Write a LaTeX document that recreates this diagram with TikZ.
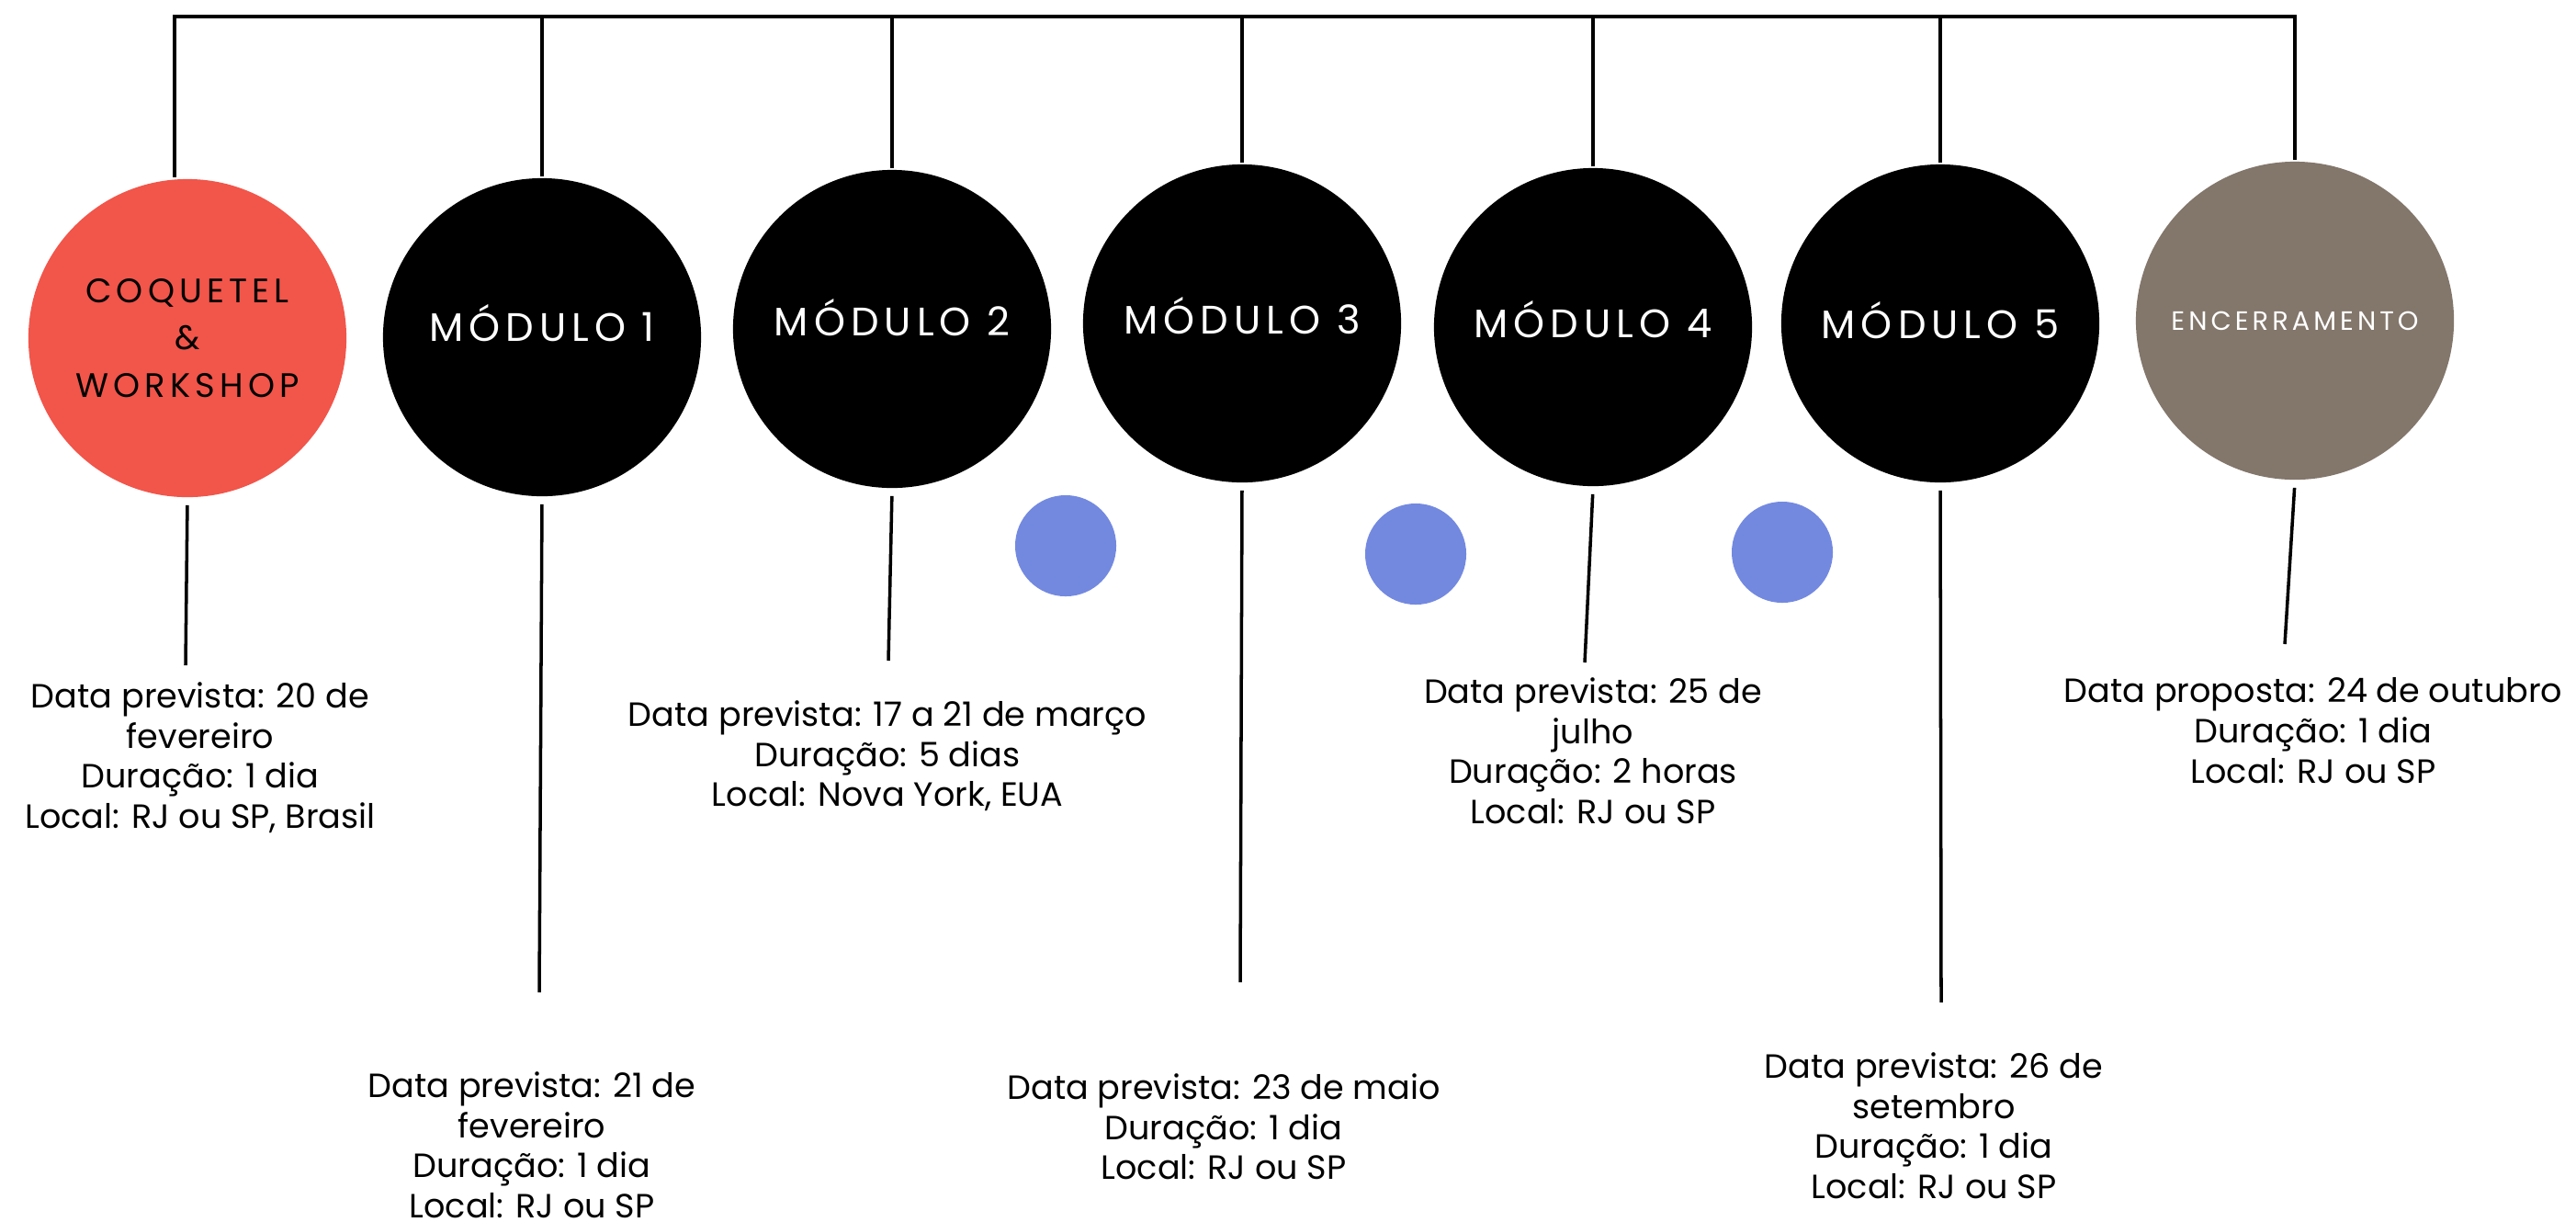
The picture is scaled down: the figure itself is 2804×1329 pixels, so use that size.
\documentclass[tikz,border=0pt]{standalone}
\usepackage{fontspec}
\setmainfont{Poppins}
\newfontfamily\capsfont[LetterSpace=14]{Poppins}
\usepackage{xcolor}
\definecolor{coral}{HTML}{F2554A}
\definecolor{taupe}{HTML}{83766B}
\definecolor{lavender}{HTML}{7389E0}
\usetikzlibrary{calc}

\begin{document}
\begin{tikzpicture}[x=0.01cm, y=-0.01cm, line width=1pt,
		etapa/.style={circle, minimum size=3.46cm, inner sep=0pt, align=center, fill=black, text=white, text depth=5pt, font=\capsfont\fontsize{12.3}{16}\selectfont},
		info/.style={align=center, anchor=north, inner sep=0pt, font=\fontsize{10.4}{12.4}\selectfont},
		ponto/.style={circle, minimum size=1.1cm, inner sep=0pt, fill=lavender}]
		\useasboundingbox (0,0) rectangle (2804,1329);
		
		\coordinate (topo) at (0,18);
		\coordinate (inicio) at (190,18);
		
		\node [etapa, fill=coral, text=black, text depth=, font=\capsfont\fontsize{10.5}{14.6}\selectfont] (coq) at (204,368) {COQUETEL\\\&\\WORKSHOP};
		\node [etapa, text depth=9pt] (m1) at (590,367) {MÓDULO 1};
		\node [etapa, text depth=7pt] (m2) at (971,358) {MÓDULO 2};
		\node [etapa] (m3) at (1352,352) {MÓDULO 3};
		\node [etapa] (m4) at (1734,356) {MÓDULO 4};
		\node [etapa, text depth=2pt] (m5) at (2112,352) {MÓDULO 5};
		\node [etapa, fill=taupe, text depth=, font=\capsfont\fontsize{8.2}{10}\selectfont] (enc) at (2498,349) {ENCERRAMENTO};
		
		\node [ponto] (p1) at (1160,594) {};
		\node [ponto] (p2) at (1541,603) {};
		\node [ponto] (p3) at (1940,601) {};
		
		\node [info] (i0) at (218,741) {Data prevista: 20 de\\fevereiro\\Duração: 1 dia\\Local: RJ ou SP, Brasil};
		\node [info] (i1) at (579,1165) {Data prevista: 21 de\\fevereiro\\Duração: 1 dia\\Local: RJ ou SP};
		\node [info] (i2) at (966,761) {Data prevista: 17 a 21 de março\\Duração: 5 dias\\Local: Nova York, EUA};
		\node [info] (i3) at (1332,1167) {Data prevista: 23 de maio\\Duração: 1 dia\\Local: RJ ou SP};
		\node [info] (i4) at (1734,736) {Data prevista: 25 de\\julho\\Duração: 2 horas\\Local: RJ ou SP};
		\node [info] (i5) at (2105,1144) {Data prevista: 26 de\\setembro\\Duração: 1 dia\\Local: RJ ou SP};
		\node [info] (i6) at (2518,736) {Data proposta: 24 de outubro\\Duração: 1 dia\\Local: RJ ou SP};
		
		% fim das hastes
		\coordinate (f0) at (202,724);
		\coordinate (f1) at (587,1080);
		\coordinate (f2) at (967,719);
		\coordinate (f3) at (1350,1069);
		\coordinate (f4) at (1725,721);
		\coordinate (f5) at (2113,1091);
		\coordinate (f6) at (2487,701);
		
		\draw [line cap=rect] (inicio) -- (enc.north |- topo);
		\draw (inicio) -- (inicio |- coq.north);
		\foreach \n in {m1, m2, m3, m4, m5, enc}
			\draw (\n.north) -- (\n.north |- topo);
		\foreach \n/\f in {coq/f0, m1/f1, m2/f2, m3/f3, m4/f4, m5/f5, enc/f6}
			\draw [shorten <=2pt] (\n.south) -- (\f);
	\end{tikzpicture}
\end{document}
